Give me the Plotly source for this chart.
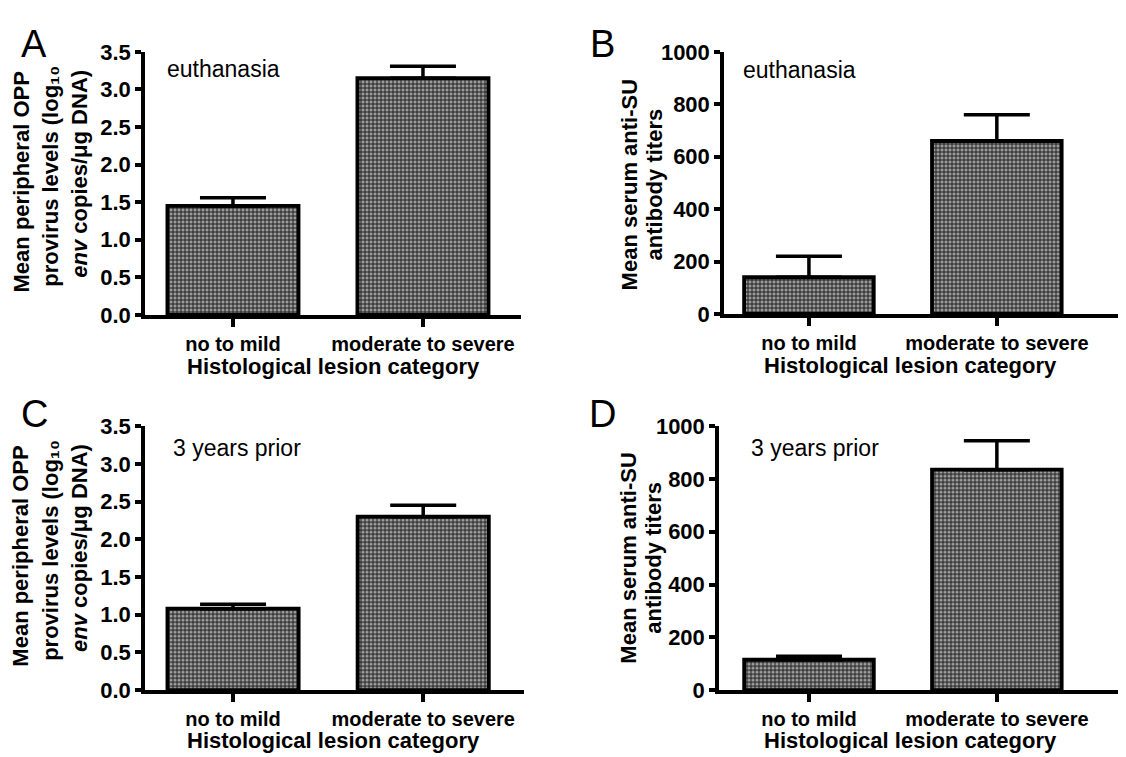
import plotly.graph_objects as go

W, H = 1126, 757

categories = ["no to mild", "moderate to severe"]

# Panel A: provirus levels at euthanasia
a_mean = [1.45, 3.15]
a_sem = [0.11, 0.16]
# Panel B: antibody titers at euthanasia
b_mean = [140, 660]
b_sem = [80, 100]
# Panel C: provirus levels 3 years prior
c_mean = [1.08, 2.30]
c_sem = [0.06, 0.15]
# Panel D: antibody titers 3 years prior
d_mean = [115, 835]
d_sem = [13, 110]

prov_ticks = [0.0, 0.5, 1.0, 1.5, 2.0, 2.5, 3.0, 3.5]
prov_ticktext = ["0.0", "0.5", "1.0", "1.5", "2.0", "2.5", "3.0", "3.5"]
titer_ticks = [0, 200, 400, 600, 800, 1000]

FONT = "Liberation Sans, Arial, Helvetica, sans-serif"

def px(x):
    return x / W

def py(y):
    return 1 - y / H

fig = go.Figure()

panels = [
    (a_mean, a_sem, "", (137, 513), (305, 33), [-0.463, 1.516], [0, 3.5], "prov"),
    (b_mean, b_sem, "2", (716, 1126), (304, 33), [-0.452, 1.73], [0, 1000], "titer"),
    (c_mean, c_sem, "3", (137, 516), (693, 420), [-0.463, 1.53], [0, 3.5], "prov"),
    (d_mean, d_sem, "4", (711, 1126), (693, 420), [-0.479, 1.73], [0, 1000], "titer"),
]

layout_axes = {}
for mean, sem, suf, xd, yd, xr, yr, kind in panels:
    fig.add_trace(go.Bar(
        x=[0, 1], y=mean,
        width=0.69,
        xaxis="x" + suf, yaxis="y" + suf,
        marker=dict(
            color="#3a3a3a",
            line=dict(color="black", width=3.8),
            pattern=dict(shape=".", fgcolor="white",
                         size=4, solidity=0.48, fillmode="overlay"),
        ),
        error_y=dict(type="data", symmetric=False, array=sem,
                     arrayminus=[0] * len(sem),
                     color="black", thickness=3.5, width=33),
        showlegend=False,
    ))
    xa = dict(
        domain=[px(xd[0]), px(xd[1])], range=xr,
        anchor="y" + suf,
        showline=True, linecolor="black", linewidth=3.5,
        ticks="outside", ticklen=8, tickwidth=3.5, tickcolor="black",
        tickvals=[0, 1], ticktext=categories,
        tickfont=dict(family=FONT, size=20, color="black", weight="bold"),
        showgrid=False, zeroline=False, fixedrange=True,
    )
    if kind == "prov":
        tv, tt = prov_ticks, prov_ticktext
    else:
        tv, tt = titer_ticks, [str(t) for t in titer_ticks]
    ya = dict(
        domain=[py(yd[0]), py(yd[1])], range=yr,
        anchor="x" + suf,
        showline=True, linecolor="black", linewidth=3.5,
        ticks="outside", ticklen=6, tickwidth=3.5, tickcolor="black",
        tickvals=tv, ticktext=tt,
        tickfont=dict(family=FONT, size=22, color="black", weight="bold"),
        showgrid=False, zeroline=False, fixedrange=True,
    )
    layout_axes["xaxis" + suf] = xa
    layout_axes["yaxis" + suf] = ya

annotations = []

def ann(text, x, y, size, bold=False, angle=0, xanchor="center", yanchor="middle"):
    annotations.append(dict(
        text=text, x=px(x), y=py(y), xref="paper", yref="paper",
        showarrow=False, textangle=angle, xanchor=xanchor, yanchor=yanchor,
        font=dict(family=FONT, size=size, color="black",
                  weight="bold" if bold else "normal"),
    ))

# panel letters
ann("A", 26, 25, 38)
ann("B", 594, 25, 38)
ann("C", 26, 407, 38)
ann("D", 594, 407, 38)

# inner labels
ann("euthanasia", 157, 51, 23, xanchor="left")
ann("euthanasia", 733, 52, 23, xanchor="left")
ann("3 years prior", 163, 443, 23, xanchor="left")
ann("3 years prior", 741, 443, 23, xanchor="left")

# x-axis titles
ann("Histological lesion category", 325, 358, 22, bold=True)
ann("Histological lesion category", 902, 357, 22, bold=True)
ann("Histological lesion category", 325, 745, 22, bold=True)
ann("Histological lesion category", 902, 745, 22, bold=True)

# y-axis titles (provirus)
for yc in (168, 555):
    ann("Mean peripheral OPP", 13, yc, 22, bold=True, angle=-90)
    ann("provirus levels (log₁₀", 43, yc - 6, 22, bold=True, angle=-90)
    ann("<i>env</i> copies/μg DNA)", 72, yc - 9, 22, bold=True, angle=-90)

# y-axis titles (antibody)
for yc in (170, 556):
    ann("Mean serum anti-SU", 621, yc, 22, bold=True, angle=-90)
    ann("antibody titers", 646, yc, 22, bold=True, angle=-90)

fig.update_layout(
    width=W, height=H,
    margin=dict(l=0, r=0, t=0, b=0),
    paper_bgcolor="white", plot_bgcolor="white",
    annotations=annotations,
    **layout_axes,
)

fig.write_html("out.html")
